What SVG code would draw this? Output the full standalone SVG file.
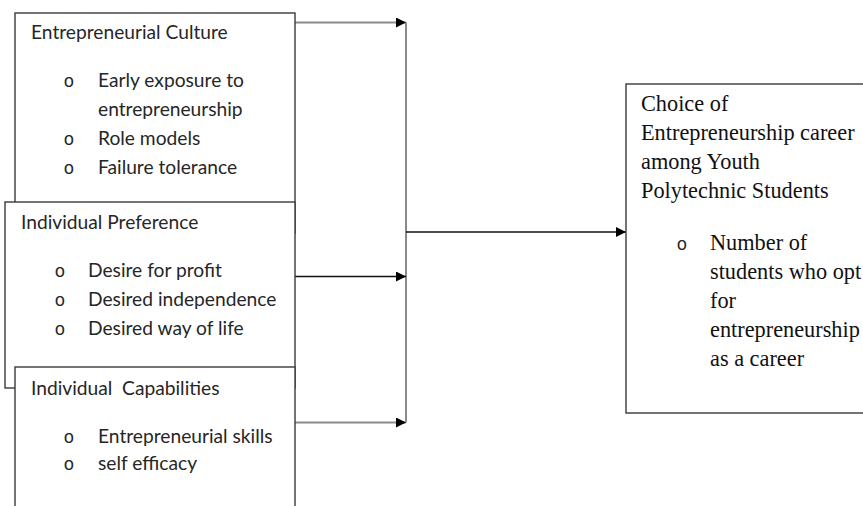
<svg xmlns="http://www.w3.org/2000/svg" width="863" height="506" viewBox="0 0 863 506">
  <style>
    .box { fill: #ffffff; stroke: #3a3a3a; stroke-width: 1.4; }
    .cal { font-family: Lato, "Liberation Sans", sans-serif; font-size: 19.2px; fill: #262626; }
    .tnr { font-family: "Liberation Serif", serif; font-size: 22.3px; fill: #111111; }
    .bul { font-family: "Liberation Mono", monospace; font-size: 18px; fill: #262626; text-anchor: middle; }
    .gray { stroke: #8a8a8a; stroke-width: 2; fill: none; }
    .blk { stroke: #111111; stroke-width: 1.4; fill: none; }
  </style>
  <defs>
    <marker id="ah" viewBox="0 0 10 10" refX="10" refY="5" markerWidth="11" markerHeight="10" markerUnits="userSpaceOnUse" orient="auto">
      <path d="M0,0 L10,5 L0,10 Z" fill="#000000"/>
    </marker>
  </defs>
  <rect width="863" height="506" fill="#ffffff"/>

  <g id="connectors">
    <line class="gray" x1="406" y1="22.5" x2="406" y2="422.5"/>
    <line class="gray" x1="295" y1="22.5" x2="406" y2="22.5" marker-end="url(#ah)"/>
    <line class="blk" x1="295" y1="276.5" x2="406" y2="276.5" marker-end="url(#ah)"/>
    <line class="gray" x1="295" y1="422.5" x2="406" y2="422.5" marker-end="url(#ah)"/>
    <line class="blk" x1="406" y1="232" x2="626" y2="232" marker-end="url(#ah)"/>
  </g>

  <g id="node-culture">
    <rect class="box" x="15" y="13" width="280" height="220"/>
    <text class="cal" x="31" y="39">Entrepreneurial Culture</text>
    <text class="bul" x="69" y="87">o</text>
    <text class="cal" x="98" y="87">Early exposure to</text>
    <text class="cal" x="98" y="116">entrepreneurship</text>
    <text class="bul" x="69" y="145">o</text>
    <text class="cal" x="98" y="145">Role models</text>
    <text class="bul" x="69" y="174">o</text>
    <text class="cal" x="98" y="174">Failure tolerance</text>
  </g>

  <g id="node-preference">
    <rect class="box" x="5" y="202" width="290" height="186"/>
    <text class="cal" x="21" y="229">Individual Preference</text>
    <text class="bul" x="60" y="277">o</text>
    <text class="cal" x="88" y="277">Desire for profit</text>
    <text class="bul" x="60" y="306">o</text>
    <text class="cal" x="88" y="306">Desired independence</text>
    <text class="bul" x="60" y="335">o</text>
    <text class="cal" x="88" y="335">Desired way of life</text>
  </g>

  <g id="node-capabilities">
    <rect class="box" x="15" y="367" width="280" height="160"/>
    <text class="cal" x="31" y="395" xml:space="preserve">Individual  Capabilities</text>
    <text class="bul" x="69" y="443">o</text>
    <text class="cal" x="98" y="443">Entrepreneurial skills</text>
    <text class="bul" x="69" y="470">o</text>
    <text class="cal" x="98" y="470">self efficacy</text>
  </g>

  <g id="node-choice">
    <rect class="box" x="626" y="84" width="260" height="329"/>
    <text class="tnr" x="641" y="111">Choice of</text>
    <text class="tnr" x="641" y="140">Entrepreneurship career</text>
    <text class="tnr" x="641" y="169">among Youth</text>
    <text class="tnr" x="641" y="198">Polytechnic Students</text>
    <text class="bul" x="682" y="250">o</text>
    <text class="tnr" x="710" y="250">Number of</text>
    <text class="tnr" x="710" y="279">students who opt</text>
    <text class="tnr" x="710" y="308">for</text>
    <text class="tnr" x="710" y="337">entrepreneurship</text>
    <text class="tnr" x="710" y="366">as a career</text>
  </g>
</svg>
